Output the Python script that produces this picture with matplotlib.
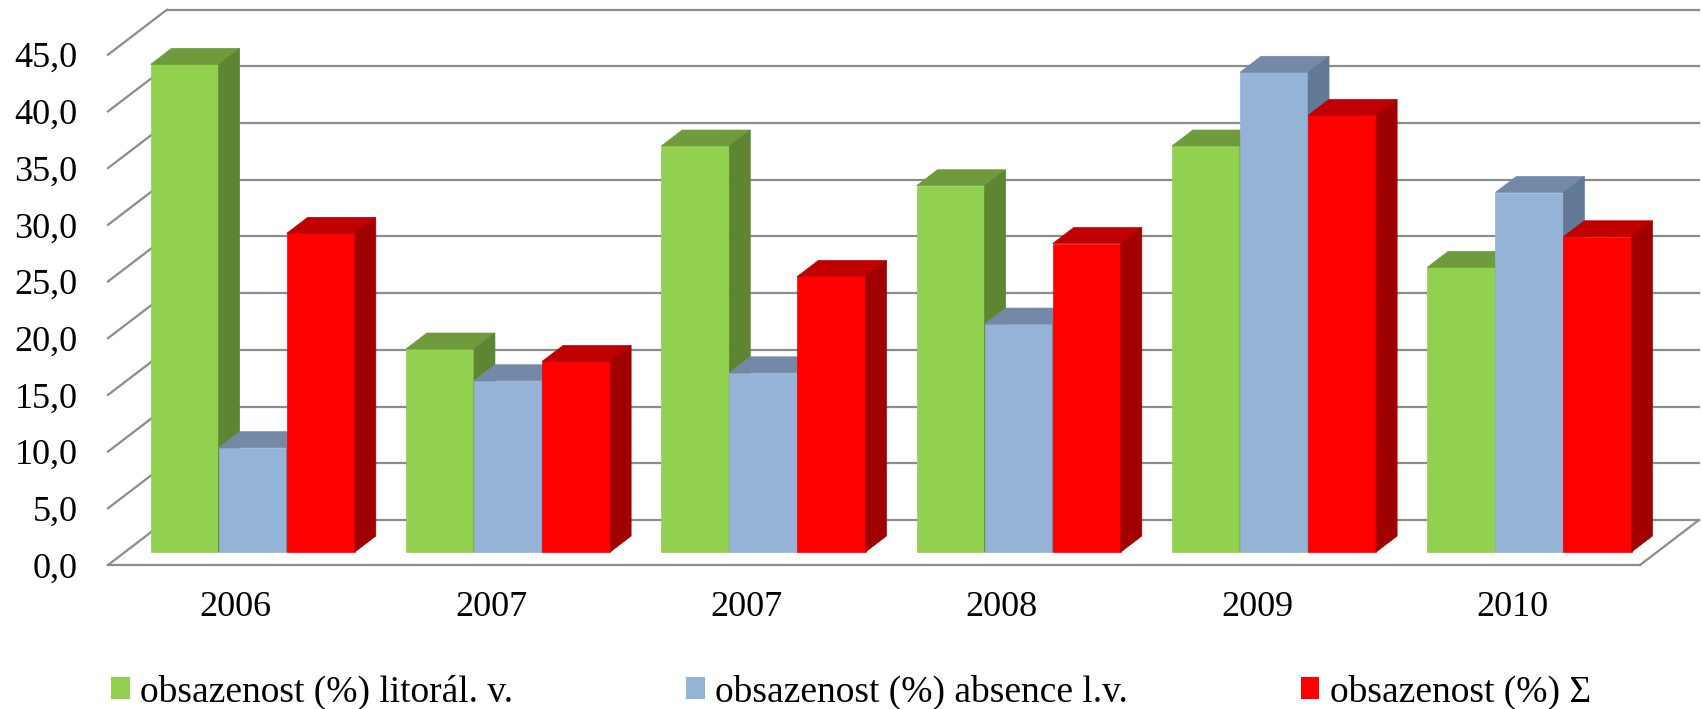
import matplotlib
matplotlib.use('Agg')
import matplotlib.pyplot as plt
from matplotlib.patches import Polygon, Rectangle

# data
years = ['2006', '2007', '2007', '2008', '2009', '2010']
litoral = [43.0, 17.9, 35.8, 32.3, 35.8, 25.1]
absence = [9.2, 15.1, 15.8, 20.1, 42.3, 31.7]
celkem = [28.1, 16.8, 24.3, 27.2, 38.5, 27.8]
names = ['obsazenost (%) litorál. v.', 'obsazenost (%) absence l.v.', 'obsazenost (%) Σ']
yticks = [0, 5, 10, 15, 20, 25, 30, 35, 40, 45]

# face colours: front, top, side
green = ('#92D050', '#6F9B3C', '#5E8532')
blue = ('#95B3D7', '#7389A7', '#617896')
red = ('#FF0000', '#C00000', '#A00000')

plt.rcParams['font.family'] = ['Liberation Serif', 'DejaVu Serif']

# 3d depth offset in data units (x: categories, y: values)
DX = 0.231
DY = 3.97
F = 0.289   # front plane of the bars
B = 0.644   # back plane of the bars
grid_col = '#8C8C8C'

fig = plt.figure(figsize=(17.02, 7.09), dpi=100)
ax = fig.add_axes([108/1702, (709-565)/709, 1532/1702, (565-54.7)/709])
ax.set_xlim(0, 6)
ax.set_ylim(0, 45)
for s in ax.spines.values():
    s.set_visible(False)

# walls and gridlines
for v in yticks:
    ax.plot([DX, 6+DX], [v+DY, v+DY], color=grid_col, lw=1.6, clip_on=False, zorder=1)
    ax.plot([0, DX], [v, v+DY], color=grid_col, lw=1.6, clip_on=False, zorder=1)
ax.plot([0, 6], [0, 0], color=grid_col, lw=1.6, clip_on=False, zorder=1)
ax.plot([6, 6+DX], [0, DY], color=grid_col, lw=1.6, clip_on=False, zorder=1)


def bar3d(x0, w, h, cols, z):
    front = [(x0+F*DX, F*DY), (x0+w+F*DX, F*DY), (x0+w+F*DX, h+F*DY), (x0+F*DX, h+F*DY)]
    top = [(x0+F*DX, h+F*DY), (x0+w+F*DX, h+F*DY), (x0+w+B*DX, h+B*DY), (x0+B*DX, h+B*DY)]
    side = [(x0+w+F*DX, F*DY), (x0+w+B*DX, B*DY), (x0+w+B*DX, h+B*DY), (x0+w+F*DX, h+F*DY)]
    for pts, c in zip([front, top, side], cols):
        ax.add_patch(Polygon(pts, closed=True, facecolor=c, edgecolor=c, lw=0.5,
                             clip_on=False, zorder=z))


w = 0.8/3
z = 2
for i in range(len(years)):
    for j, (vals, cols) in enumerate([(litoral, green), (absence, blue), (celkem, red)]):
        bar3d(i+0.1+j*w, w, vals[i], cols, z)
        z += 1

ax.set_yticks(yticks)
ax.set_yticklabels([f'{v:.1f}'.replace('.', ',') for v in yticks], fontsize=26)
ax.set_xticks([i+0.5 for i in range(len(years))])
ax.set_xticklabels(years, fontsize=26)
ax.tick_params(axis='y', length=0, pad=22)
ax.tick_params(axis='x', length=0, pad=19)

handles = [Rectangle((0, 0), 1, 1, facecolor=c[0]) for c in (green, blue, red)]
fig.legend(handles, names, loc='center', bbox_to_anchor=(0.5, 1-692/709), ncol=3,
           frameon=False, fontsize=27, handlelength=0.5, handleheight=0.5,
           handletextpad=0.28, columnspacing=4.6)

fig.savefig('out.png', dpi=100)
